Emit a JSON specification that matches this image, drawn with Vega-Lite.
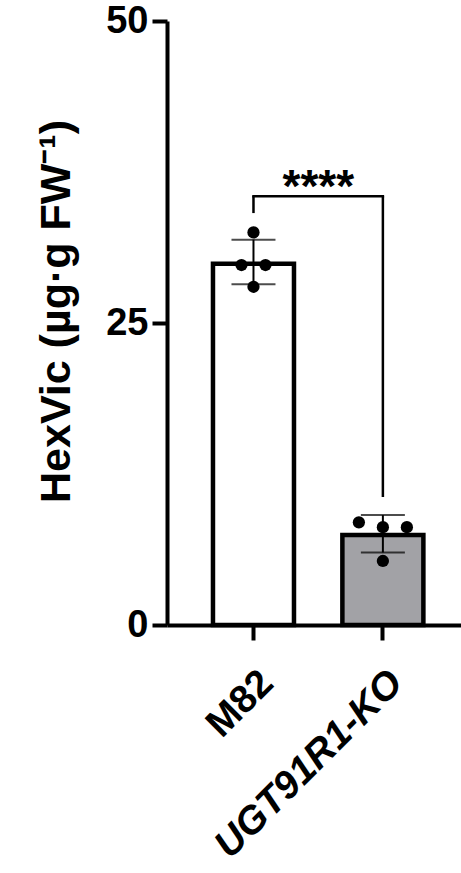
{
  "$schema": "https://vega.github.io/schema/vega-lite/v6.json",
  "autosize": "none",
  "width": 294,
  "height": 604,
  "padding": {"left": 167, "top": 21, "right": 0, "bottom": 248},
  "background": "white",
  "config": {"view": {"stroke": null}, "font": "Liberation Sans"},
  "resolve": {"scale": {"xOffset": "independent"}},
  "datasets": {
    "bars": [
      {"group": "M82", "mean": 29.9, "lo": 28.2, "hi": 31.9},
      {"group": "UGT91R1-KO", "mean": 7.45, "lo": 6.0, "hi": 9.1}
    ],
    "points": [
      {"group": "M82", "value": 32.5, "jitter": 0},
      {"group": "M82", "value": 29.8, "jitter": -0.5},
      {"group": "M82", "value": 29.8, "jitter": 0.5},
      {"group": "M82", "value": 28.0, "jitter": 0},
      {"group": "UGT91R1-KO", "value": 8.5, "jitter": -1},
      {"group": "UGT91R1-KO", "value": 8.1, "jitter": 0},
      {"group": "UGT91R1-KO", "value": 8.1, "jitter": 1},
      {"group": "UGT91R1-KO", "value": 5.3, "jitter": 0}
    ],
    "sig": [
      {"from": "M82", "to": "UGT91R1-KO", "top": 35.5, "left": 34.1, "right": 10.6, "label": "****"}
    ]
  },
  "layer": [
    {
      "data": {"name": "bars"},
      "mark": {"type": "bar", "stroke": "black", "strokeWidth": 4.5},
      "encoding": {
        "x": {
          "field": "group", "type": "nominal",
          "scale": {"domain": ["M82", "UGT91R1-KO"], "paddingInner": 0.374, "paddingOuter": 0.323, "align": 0.55},
          "axis": {
            "title": null,
            "labelAngle": -45,
            "labelAlign": "right",
            "labelBaseline": "top",
            "labelFontSize": 39,
            "labelFontWeight": "bold",
            "labelFontStyle": {"condition": {"test": "datum.value == 'UGT91R1-KO'", "value": "italic"}, "value": "normal"},
            "labelColor": "black",
            "labelPadding": 23,
            "labelLimit": 0,
            "labelOverlap": false,
            "tickSize": 15,
            "tickWidth": 4,
            "tickColor": "black",
            "domainWidth": 4,
            "domainColor": "black",
            "grid": false
          }
        },
        "y": {
          "field": "mean", "type": "quantitative",
          "scale": {"domain": [0, 50], "nice": false},
          "axis": {
            "values": [0, 25, 50],
            "title": "HexVic (µg·g FW⁻¹)",
            "titleFontSize": 43,
            "titleFontWeight": "bold",
            "titleColor": "black",
            "titlePadding": 27,
            "titleY": 290,
            "labelFontSize": 38,
            "labelFontWeight": "bold",
            "labelColor": "black",
            "labelPadding": 4,
            "tickSize": 15,
            "tickWidth": 4,
            "tickColor": "black",
            "domainWidth": 4,
            "domainColor": "black",
            "grid": false
          }
        },
        "fill": {
          "field": "group", "type": "nominal",
          "scale": {"domain": ["M82", "UGT91R1-KO"], "range": ["#ffffff", "#a2a2a6"]},
          "legend": null
        }
      }
    },
    {
      "data": {"name": "bars"},
      "mark": {"type": "rule", "color": "black", "strokeWidth": 2},
      "encoding": {
        "x": {"field": "group", "type": "nominal"},
        "y": {"field": "lo", "type": "quantitative"},
        "y2": {"field": "hi"}
      }
    },
    {
      "data": {"name": "bars"},
      "mark": {"type": "tick", "color": "black", "thickness": 2, "size": 44},
      "encoding": {
        "x": {"field": "group", "type": "nominal"},
        "y": {"field": "lo", "type": "quantitative"}
      }
    },
    {
      "data": {"name": "bars"},
      "mark": {"type": "tick", "color": "black", "thickness": 2, "size": 44},
      "encoding": {
        "x": {"field": "group", "type": "nominal"},
        "y": {"field": "hi", "type": "quantitative"}
      }
    },
    {
      "data": {"name": "points"},
      "mark": {"type": "point", "filled": true, "color": "black", "opacity": 1, "size": 150},
      "encoding": {
        "x": {"field": "group", "type": "nominal"},
        "xOffset": {"field": "jitter", "type": "quantitative", "scale": {"domain": [-1, 1], "range": [16.5, 64.5]}},
        "y": {"field": "value", "type": "quantitative"}
      }
    },
    {
      "data": {"name": "sig"},
      "mark": {"type": "rule", "color": "black", "strokeWidth": 2.5},
      "encoding": {
        "x": {"field": "from", "type": "nominal"},
        "y": {"field": "left", "type": "quantitative"},
        "y2": {"field": "top"}
      }
    },
    {
      "data": {"name": "sig"},
      "mark": {"type": "rule", "color": "black", "strokeWidth": 2.5},
      "encoding": {
        "x": {"field": "to", "type": "nominal"},
        "y": {"field": "right", "type": "quantitative"},
        "y2": {"field": "top"}
      }
    },
    {
      "data": {"name": "sig"},
      "mark": {"type": "rule", "color": "black", "strokeWidth": 2.5, "strokeCap": "square"},
      "encoding": {
        "x": {"field": "from", "type": "nominal"},
        "x2": {"field": "to"},
        "y": {"field": "top", "type": "quantitative"}
      }
    },
    {
      "data": {"name": "sig"},
      "mark": {"type": "text", "fontSize": 46, "fontWeight": "bold", "color": "black", "baseline": "alphabetic", "align": "center", "dy": 6},
      "encoding": {
        "x": {"field": "from", "type": "nominal", "bandPosition": 1.3},
        "y": {"field": "top", "type": "quantitative"},
        "text": {"field": "label"}
      }
    }
  ]
}
